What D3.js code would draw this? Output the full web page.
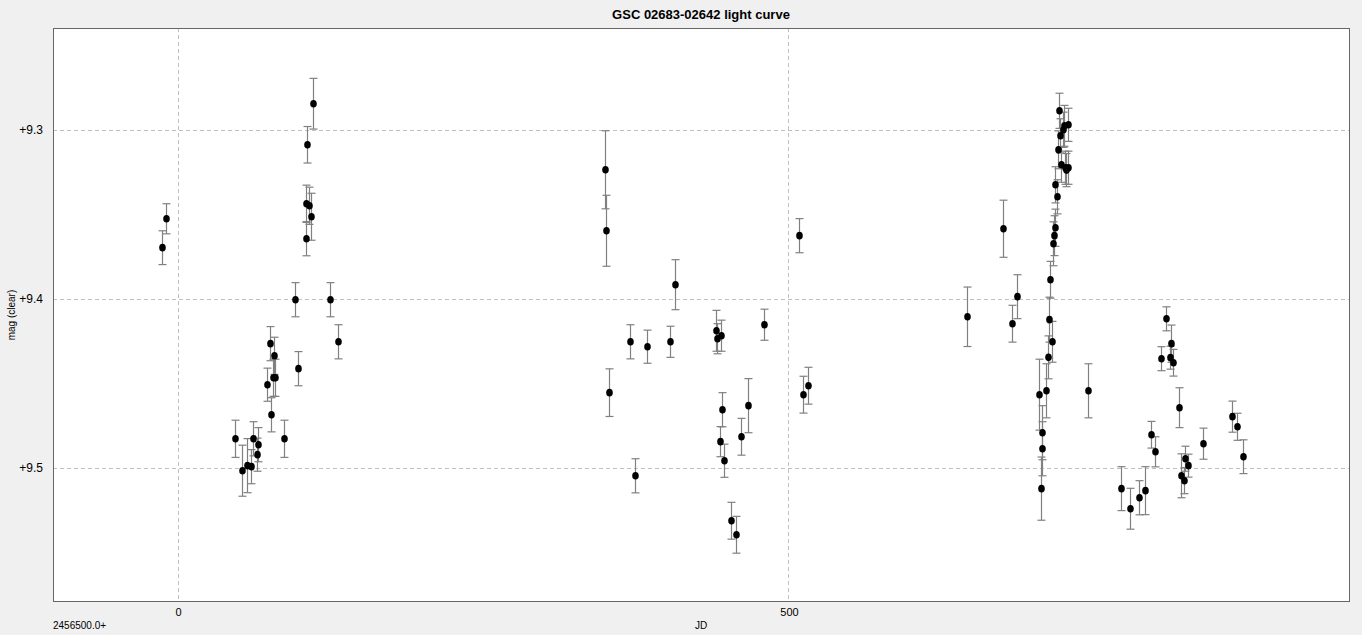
<!DOCTYPE html>
<html><head><meta charset="utf-8">
<script src="https://cdn.jsdelivr.net/npm/d3@7"></script>
<style>
html,body{margin:0;padding:0;background:#f0f0f0;}
svg{display:block;}
text{font-family:"DejaVu Sans","Liberation Sans",sans-serif;fill:#000;}
</style></head>
<body>
<svg id="c" width="1362" height="635"></svg>
<script>
const title = "GSC 02683-02642 light curve";
const xLabel = "JD";
const yLabel = "mag (clear)";
const xOffsetLabel = "2456500.0+";
const xTicks = [0, 500];
const yTicks = [9.3, 9.4, 9.5];

const jd = [-12.8,-9.2,110.7,105.8,105.0,107.4,109.1,105.0,96.0,124.6,131.2,75.5,78.8,78.0,79.6,98.4,73.1,76.4,46.9,87.0,61.6,65.7,64.9,56.5,60.0,52.6,
349.7,350.5,407.0,370.1,384.0,402.9,440.5,441.4,444.6,479.8,352.9,445.4,443.8,447.1,461.0,466.7,374.2,452.8,456.9,508.4,511.7,515.8,
645.9,675.4,682.7,686.8,744.9,706.5,707.3,707.3,704.8,710.6,712.2,715.5,713.0,713.8,716.3,717.1,717.9,719.5,717.9,722.8,720.4,722.0,724.5,725.3,728.6,721.2,726.1,728.6,726.9,
808.8,812.9,804.7,812.0,814.5,819.4,796.5,799.8,839.0,824.3,826.8,821.0,823.3,771.9,779.6,786.7,791.6,862.8,866.9,871.8];
const mag = [9.3696,9.3525,9.2844,9.3087,9.3436,9.3448,9.3513,9.3643,9.4004,9.4004,9.4253,9.4264,9.4336,9.4466,9.4466,9.4412,9.4507,9.4685,9.4827,9.4827,9.4827,9.4862,9.4921,9.4986,9.4992,9.5016,
9.3235,9.3596,9.3915,9.4253,9.4282,9.4253,9.4188,9.4235,9.4217,9.4152,9.4554,9.4655,9.4844,9.4957,9.4815,9.4631,9.5046,9.5312,9.5395,9.3625,9.4566,9.4513,
9.4105,9.3584,9.4146,9.3986,9.4543,9.5122,9.4886,9.4791,9.4566,9.4543,9.4345,9.4253,9.4122,9.3886,9.3673,9.3625,9.3578,9.3395,9.3324,9.3205,9.3117,9.3034,9.2998,9.2975,9.2969,9.2886,9.3223,9.3223,9.3237,
9.4117,9.4264,9.4353,9.4347,9.4377,9.4643,9.4803,9.4904,9.4856,9.4945,9.4986,9.5046,9.5075,9.5122,9.5241,9.5176,9.5134,9.4696,9.4756,9.4933];
const err = [0.0100,0.0089,0.0150,0.0108,0.0110,0.0110,0.0139,0.0101,0.0101,0.0101,0.0101,0.0101,0.0110,0.0110,0.0110,0.0101,0.0098,0.0101,0.0110,0.0110,0.0101,0.0101,0.0098,0.0160,0.0101,0.0151,
0.0231,0.0210,0.0148,0.0101,0.0098,0.0092,0.0121,0.0089,0.0092,0.0092,0.0141,0.0101,0.0089,0.0098,0.0109,0.0160,0.0101,0.0109,0.0109,0.0101,0.0109,0.0109,
0.0176,0.0169,0.0109,0.0130,0.0160,0.0187,0.0160,0.0160,0.0210,0.0160,0.0127,0.0121,0.0133,0.0109,0.0130,0.0118,0.0110,0.0101,0.0107,0.0104,0.0112,0.0101,0.0104,0.0121,0.0098,0.0104,0.0098,0.0098,0.0098,
0.0071,0.0110,0.0071,0.0068,0.0079,0.0118,0.0079,0.0089,0.0092,0.0074,0.0068,0.0130,0.0077,0.0130,0.0121,0.0101,0.0142,0.0092,0.0080,0.0100];

const L = 53, R = 1349, T = 28, B = 601;
const x = d3.scaleLinear().domain([-102.3, 958.3]).range([L, R]);
const y = d3.scaleLinear().domain([9.2396, 9.5787]).range([T, B]);
const px = v => Math.floor(v) + 0.5;

const svg = d3.select("#c");
svg.append("rect").attr("x", L).attr("y", T).attr("width", R - L).attr("height", B - T)
  .attr("fill", "#fff");

// grid
const g = svg.append("g");
g.selectAll(".gx").data(xTicks).join("line")
  .attr("x1", d => px(x(d))).attr("x2", d => px(x(d)))
  .attr("y1", T).attr("y2", B)
  .attr("stroke", "#c0c0c0").attr("stroke-dasharray", "4,3");
g.selectAll(".gy").data(yTicks).join("line")
  .attr("y1", d => px(y(d))).attr("y2", d => px(y(d)))
  .attr("x1", L).attr("x2", R)
  .attr("stroke", "#c0c0c0").attr("stroke-dasharray", "4,3");

const pts = jd.map((d, i) => ({ jd: d, mag: mag[i], err: err[i] }));

// error bars
const eb = svg.append("g").attr("stroke", "#808080").attr("stroke-width", 1.2);
pts.forEach(p => {
  const cx = px(x(p.jd));
  const y1 = y(p.mag - p.err), y2 = y(p.mag + p.err);
  eb.append("line").attr("x1", cx).attr("x2", cx).attr("y1", y1).attr("y2", y2);
  eb.append("line").attr("x1", cx - 4).attr("x2", cx + 4).attr("y1", y1).attr("y2", y1);
  eb.append("line").attr("x1", cx - 4).attr("x2", cx + 4).attr("y1", y2).attr("y2", y2);
});

svg.append("g").selectAll("ellipse").data(pts).join("ellipse")
  .attr("cx", d => px(x(d.jd))).attr("cy", d => y(d.mag))
  .attr("rx", 3.3).attr("ry", 3.8).attr("fill", "#000");

// border
svg.append("rect").attr("x", L + 0.5).attr("y", T + 0.5).attr("width", R - L).attr("height", B - T)
  .attr("fill", "none").attr("stroke", "#666").attr("stroke-width", 1);

// axes labels
const xAxis = d3.axisBottom(x).tickValues(xTicks).tickSize(0).tickPadding(5).tickFormat(d3.format("d"));
const xa = svg.append("g").attr("transform", `translate(0,${B})`).call(xAxis);
xa.select(".domain").remove();
xa.selectAll("text").style("font-size", "11px").style("font-family", "'Liberation Sans',sans-serif").attr("dy", "0.9em");

const yAxis = d3.axisLeft(y).tickValues(yTicks).tickSize(0).tickPadding(10).tickFormat(d => "+" + d3.format(".1f")(d));
const ya = svg.append("g").attr("transform", `translate(${L},0)`).call(yAxis);
ya.select(".domain").remove();
ya.selectAll("text").style("font-size", "12px").style("font-family", "'Liberation Sans',sans-serif");

svg.append("text").attr("x", (L + R) / 2).attr("y", 19).attr("text-anchor", "middle")
  .style("font-size", "13px").style("font-weight", "bold").style("font-family", "'Liberation Sans',sans-serif").text(title);
svg.append("text").attr("x", 53).attr("y", 629)
  .style("font-size", "10px").style("font-family", "'Liberation Sans',sans-serif").text(xOffsetLabel);
svg.append("text").attr("x", 701).attr("y", 629).attr("text-anchor", "middle")
  .style("font-size", "10px").style("font-family", "'Liberation Sans',sans-serif").text(xLabel);
svg.append("text").attr("transform", "translate(15,315) rotate(-90)").attr("text-anchor", "middle")
  .style("font-size", "10px").style("font-family", "'Liberation Sans',sans-serif").text(yLabel);
</script>
</body></html>
